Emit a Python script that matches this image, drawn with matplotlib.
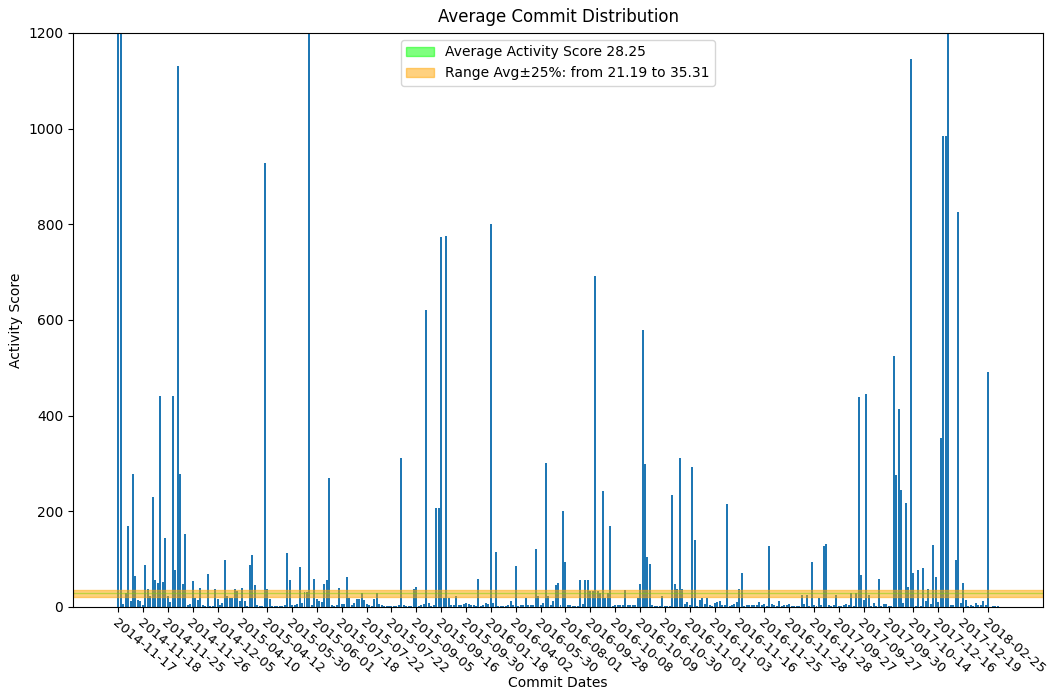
import numpy as np
import matplotlib
matplotlib.use("Agg")
import matplotlib.pyplot as plt

# activity score per commit date (one bar per date)
scores = [
    1450, 1380, 6, 29, 169, 12, 278, 65, 14, 12,
    5, 87, 38, 24, 230, 57, 50, 442, 53, 144,
    22, 10, 442, 78, 1132, 278, 49, 153, 4, 6,
    54, 18, 14, 40, 4, 2, 70, 3, 3, 38,
    16, 4, 9, 98, 24, 18, 18, 38, 33, 12,
    40, 12, 2, 88, 108, 46, 4, 2, 2, 929,
    37, 16, 3, 2, 2, 2, 2, 4, 112, 57,
    5, 4, 7, 83, 9, 32, 32, 1600, 5, 58,
    16, 13, 10, 48, 57, 269, 5, 2, 4, 40,
    7, 7, 62, 18, 4, 9, 16, 16, 29, 14,
    6, 4, 2, 16, 29, 6, 4, 2, 2, 2,
    2, 2, 2, 5, 312, 4, 2, 2, 2, 38,
    42, 2, 4, 6, 620, 8, 2, 4, 208, 208,
    773, 18, 776, 18, 4, 4, 22, 4, 4, 6,
    8, 6, 4, 4, 2, 58, 2, 4, 8, 6,
    800, 8, 116, 2, 2, 2, 2, 4, 12, 4,
    85, 2, 4, 4, 18, 4, 4, 4, 122, 22,
    4, 8, 300, 22, 4, 12, 45, 50, 4, 200,
    94, 4, 4, 2, 2, 2, 57, 6, 57, 57,
    34, 34, 692, 34, 29, 242, 18, 29, 170, 2,
    4, 4, 4, 4, 36, 4, 4, 4, 4, 18,
    48, 580, 298, 105, 89, 4, 2, 2, 2, 22,
    2, 2, 2, 234, 49, 38, 312, 38, 6, 10,
    4, 292, 141, 2, 14, 18, 6, 18, 4, 2,
    8, 10, 12, 4, 4, 216, 2, 4, 6, 10,
    38, 72, 2, 4, 4, 4, 4, 4, 10, 4,
    6, 2, 128, 6, 4, 2, 12, 2, 4, 4,
    6, 2, 2, 2, 2, 26, 6, 25, 2, 94,
    4, 2, 18, 4, 128, 132, 4, 2, 4, 26,
    2, 2, 4, 6, 4, 29, 2, 29, 438, 66,
    14, 446, 26, 2, 9, 2, 58, 2, 6, 6,
    2, 2, 524, 276, 414, 244, 8, 218, 42, 1146,
    72, 2, 78, 2, 81, 12, 38, 6, 130, 62,
    10, 353, 984, 984, 1300, 4, 4, 98, 826, 9,
    50, 15, 2, 4, 2, 9, 4, 4, 12, 4,
    492, 0, 2, 2, 2,
]

# labels shown on every 10th bar
tick_dates = [
    "2014-11-17", "2014-11-18", "2014-11-25", "2014-11-26", "2014-12-05",
    "2015-04-10", "2015-04-12", "2015-05-30", "2015-06-01", "2015-07-18",
    "2015-07-22", "2015-07-22", "2015-09-05", "2015-09-16", "2015-09-30",
    "2016-01-18", "2016-04-02", "2016-05-30", "2016-08-01", "2016-09-28",
    "2016-10-08", "2016-10-09", "2016-10-30", "2016-11-01", "2016-11-03",
    "2016-11-16", "2016-11-25", "2016-11-28", "2016-11-28", "2017-09-27",
    "2017-09-27", "2017-09-30", "2017-10-14", "2017-12-16", "2017-12-19",
    "2018-02-25",
]

avg_score = 28.25
low = avg_score * 0.75
high = avg_score * 1.25

fig, ax = plt.subplots(figsize=(10.49, 6.93), dpi=100)
fig.subplots_adjust(left=0.0696, right=0.9943, top=0.9524, bottom=0.1241)

x = np.arange(len(scores))
ax.bar(x, scores, color="#1f77b4")

ax.axhspan(avg_score, avg_score, color="lime", alpha=0.5,
           label=f"Average Activity Score {avg_score:.2f}")
ax.axhspan(low, high, color="orange", alpha=0.5,
           label=f"Range Avg±25%: from {low:.2f} to {high:.2f}")

ax.set_ylim(0, 1200)
ax.set_xticks(np.arange(0, len(scores), 10))
ax.set_xticklabels(tick_dates, rotation=-40, ha="left",
                   rotation_mode="anchor", fontsize=9.5)

ax.set_title("Average Commit Distribution", pad=8)
ax.set_xlabel("Commit Dates", labelpad=0)
ax.set_ylabel("Activity Score")
ax.legend(loc="upper center")

fig.savefig("out.png", dpi=100)
